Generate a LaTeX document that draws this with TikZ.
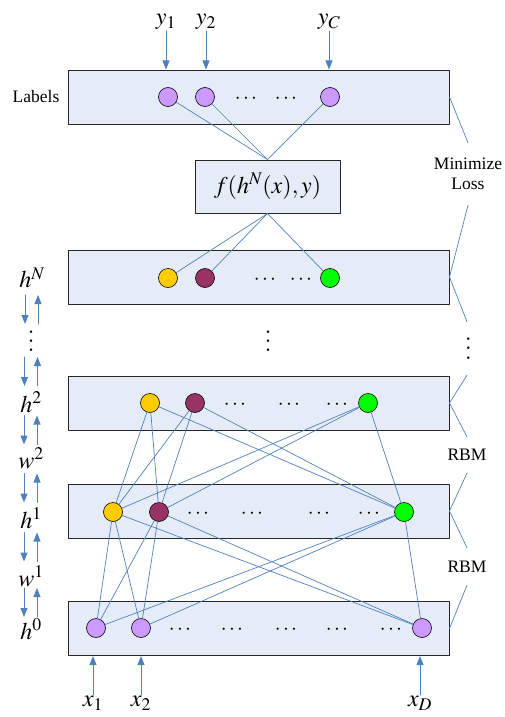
\documentclass[tikz,border=0pt]{standalone}
\usepackage{mathptmx}
\usepackage[no-math]{fontspec}
\setmainfont{Liberation Serif}
\usetikzlibrary{arrows.meta,calc}

\definecolor{layerfill}{RGB}{230,236,247}
\definecolor{wire}{RGB}{79,129,189}
\definecolor{unitpurple}{RGB}{204,153,255}
\definecolor{unityellow}{RGB}{255,204,0}
\definecolor{unitmaroon}{RGB}{153,51,102}
\definecolor{unitgreen}{RGB}{0,255,0}

% \cdots turned upright, looser than \vdots
\newcommand{\tallvdots}{\rotatebox{90}{$\cdots$}}

\tikzset{
  layer/.style={draw=black!85, line width=1pt, fill=layerfill,
                minimum width=381pt, minimum height=54pt, inner sep=0pt},
  unit/.style={circle, draw=black, line width=0.6pt, minimum size=19pt, inner sep=0pt},
  link/.style={wire, line width=0.7pt},
  arr/.style={wire, line width=1pt, -{Triangle[length=9pt,width=7pt]}},
  mathtxt/.style={font=\fontsize{24}{28}\selectfont, inner sep=1pt},
  rowdots/.style={font=\fontsize{21}{24}\selectfont, inner sep=0pt},
  coldots/.style={font=\fontsize{24}{28}\selectfont, inner sep=0pt},
  sidetxt/.style={font=\fontsize{17.5}{20}\selectfont, inner sep=0pt, align=center}
}

\begin{document}
\begin{tikzpicture}[x=1pt, y=-1pt, line cap=round, line join=round]
    \useasboundingbox (0,0) rectangle (504,717);

    % layers
    \node[layer] (labbox) at (258.5,97) {};
    \node[layer, minimum width=145pt, minimum height=53pt, font=\fontsize{24}{28}\selectfont]
        (fbox) at (267.5,186.5) {$f(h^N(x),y)$};
    \node[layer] (hNbox) at (258.5,277) {};
    \node[layer] (h2box) at (258.5,403) {};
    \node[layer] (h1box) at (258.5,511) {};
    \node[layer] (h0box) at (258.5,628.5) {};

    % units
    \node[unit, fill=unitpurple] (l1) at (168,97) {};
    \node[unit, fill=unitpurple] (l2) at (205,97) {};
    \node[unit, fill=unitpurple] (lC) at (330,97) {};

    \node[unit, fill=unityellow] (n1) at (168,278) {};
    \node[unit, fill=unitmaroon] (n2) at (205,278) {};
    \node[unit, fill=unitgreen]  (nk) at (330,278) {};

    \node[unit, fill=unityellow] (a1) at (150,403) {};
    \node[unit, fill=unitmaroon] (a2) at (195,403) {};
    \node[unit, fill=unitgreen]  (ak) at (368,403) {};

    \node[unit, fill=unityellow] (b1) at (113,512) {};
    \node[unit, fill=unitmaroon] (b2) at (159,512) {};
    \node[unit, fill=unitgreen]  (bk) at (404,512) {};

    \node[unit, fill=unitpurple] (c1) at (96,628) {};
    \node[unit, fill=unitpurple] (c2) at (141,628) {};
    \node[unit, fill=unitpurple] (cD) at (422,628) {};

    % dots inside the layers
    \foreach \x [count=\i] in {246,286}
        \node[rowdots] (ldots\i) at (\x,99) {$\cdots$};
    \foreach \x [count=\i] in {265,301}
        \node[rowdots] (ndots\i) at (\x,280) {$\cdots$};
    \foreach \x [count=\i] in {235,289,337}
        \node[rowdots] (adots\i) at (\x,405) {$\cdots$};
    \foreach \x [count=\i] in {198,252,319,369}
        \node[rowdots] (bdots\i) at (\x,514) {$\cdots$};
    \foreach \x [count=\i] in {180,232,286,337,391}
        \node[rowdots] (cdots\i) at (\x,630) {$\cdots$};
    \node[coldots] (vmid) at (269,341) {\tallvdots};

    % connections
    \foreach \u in {l1,l2,lC}
        \draw[link] (\u) -- (fbox.north);
    \foreach \u in {n1,n2,nk}
        \draw[link] (fbox.south) -- (\u);
    \foreach \u in {a1,a2,ak}
        \foreach \v in {b1,b2,bk}
            \draw[link] (\u) -- (\v);
    \foreach \u in {b1,b2,bk}
        \foreach \v in {c1,c2,cD}
            \draw[link] (\u) -- (\v);

    % inputs and label targets
    \node[mathtxt, anchor=south] (ylab1) at (166,31) {$y_1$};
    \node[mathtxt, anchor=south] (ylab2) at (206,31) {$y_2$};
    \node[mathtxt, anchor=south] (ylabC) at (329,31) {$y_C$};
    \foreach \t in {ylab1,ylab2,ylabC}
        \draw[arr] (\t.south) -- (\t.south |- labbox.north);

    \node[mathtxt, anchor=north] (xlab1) at (93,695) {$x_1$};
    \node[mathtxt, anchor=north] (xlab2) at (141,695) {$x_2$};
    \node[mathtxt, anchor=north] (xlabD) at (420,695) {$x_D$};
    \foreach \t in {xlab1,xlab2,xlabD}
        \draw[arr] (\t.north) -- (\t.north |- h0box.south);

    % left column
    \node[sidetxt] (labtxt) at (36,97) {Labels};
    \node[mathtxt, inner sep=0pt] (lhN) at (32,278) {$h^N$};
    \node[coldots] (lvd) at (32,341) {\tallvdots};
    \node[mathtxt, inner sep=0pt] (lh2) at (31,402) {$h^2$};
    \node[mathtxt, inner sep=0pt] (lw2) at (31,458) {$w^2$};
    \node[mathtxt, inner sep=0pt] (lh1) at (31,518) {$h^1$};
    \node[mathtxt, inner sep=0pt] (lw1) at (31,576) {$w^1$};
    \node[mathtxt, inner sep=0pt] (lh0) at (31,629) {$h^0$};
    \foreach \a/\b in {lhN/lvd, lvd/lh2, lh2/lw2, lw2/lh1, lh1/lw1, lw1/lh0} {
        \coordinate (mid) at ($(\a)!.5!(\b)$);
        \draw[arr] ([shift={(-7,-14.5)}]mid) -- ([shift={(-7,14.5)}]mid);
        \draw[arr] ([shift={(6,14.5)}]mid) -- ([shift={(6,-14.5)}]mid);
    }

    % right column
    \node[sidetxt, minimum height=62pt] (loss) at (468,174) {Minimize\\Loss};
    \node[coldots, minimum height=53pt] (rvd) at (469,348.5) {\tallvdots};
    \node[sidetxt, minimum height=36pt] (rbm2) at (467,455) {RBM};
    \node[sidetxt, minimum height=37pt] (rbm1) at (467,566.5) {RBM};

    \draw[link] (labbox.east) -- (loss.north);
    \draw[link] (loss.south) -- (hNbox.east);
    \draw[link] (hNbox.east) -- ([xshift=-2pt]rvd.north);
    \draw[link] ([xshift=-2pt]rvd.south) -- (h2box.east);
    \draw[link] (h2box.east) -- (rbm2.north);
    \draw[link] (rbm2.south) -- (h1box.east);
    \draw[link] (h1box.east) -- (rbm1.north);
    \draw[link] (rbm1.south) -- (h0box.east);
\end{tikzpicture}
\end{document}
